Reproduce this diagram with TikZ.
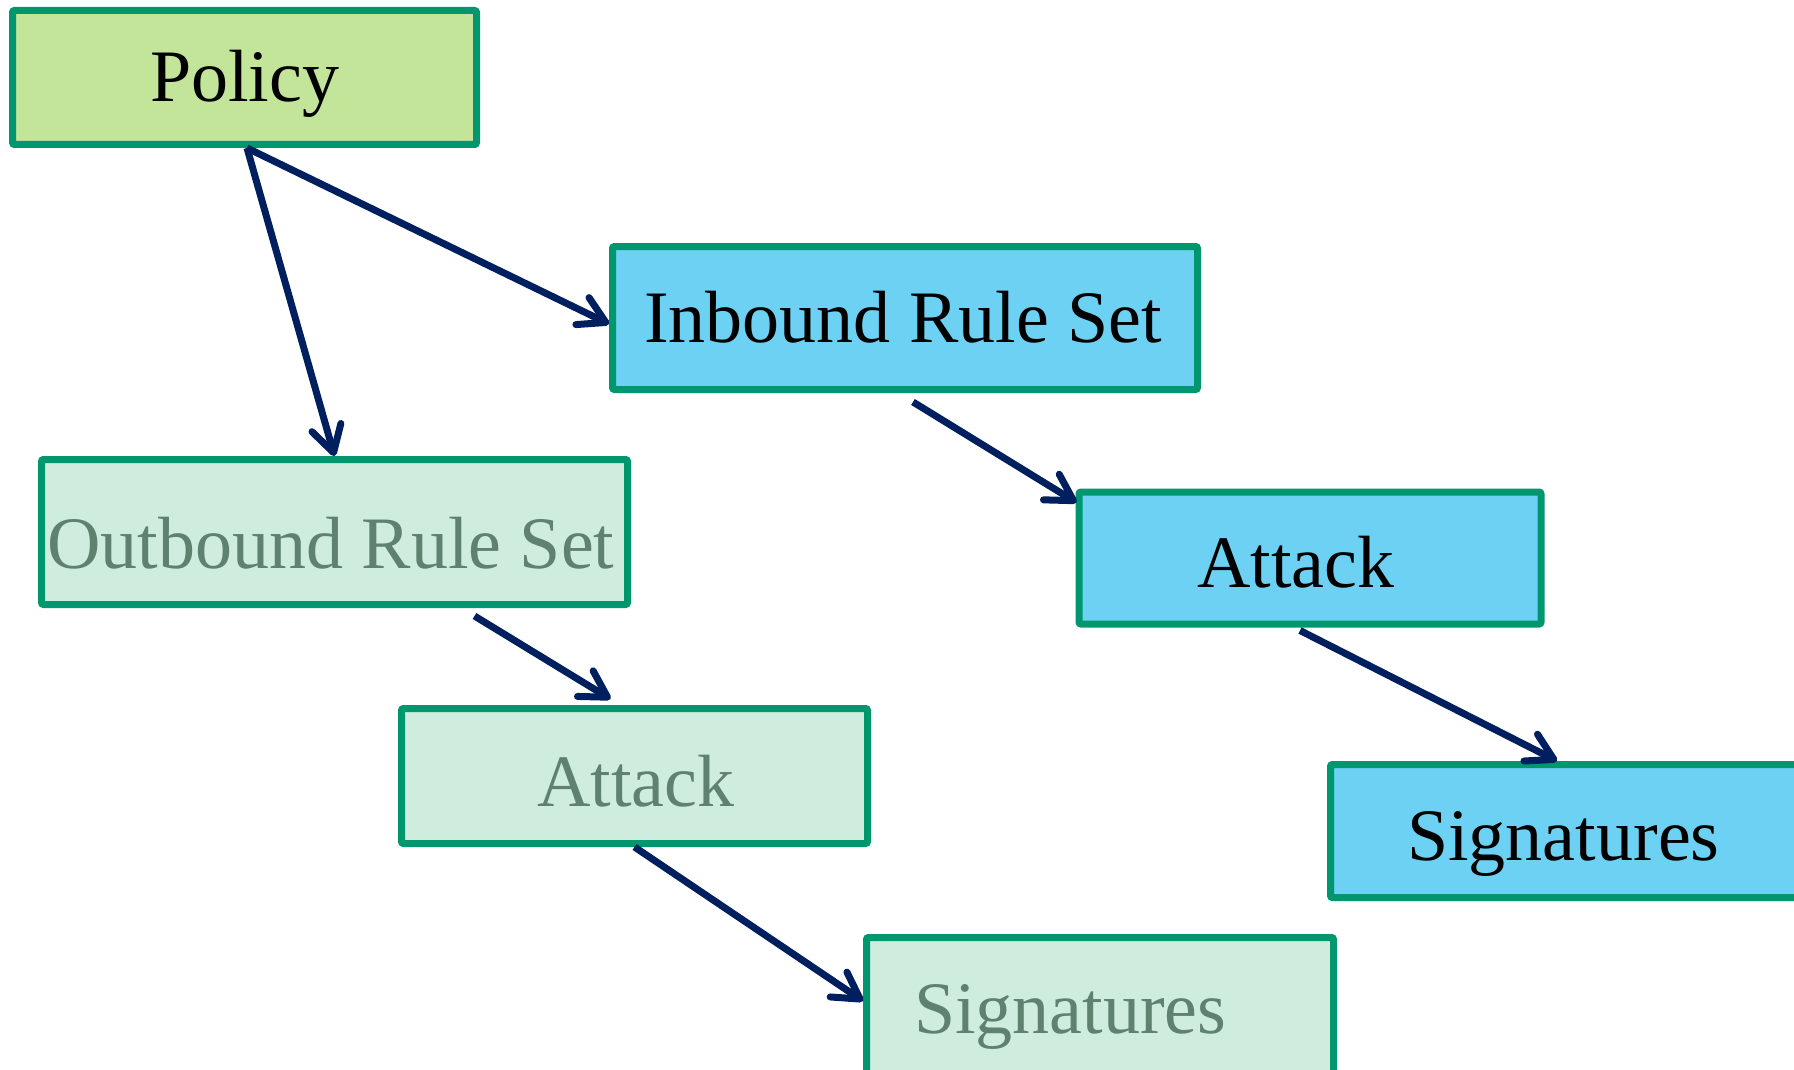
\documentclass[tikz,border=0pt]{standalone}
\usepackage{fontspec}
\setmainfont{Liberation Serif}
\usetikzlibrary{arrows.meta,calc}
\definecolor{boxline}{HTML}{00976F}
\definecolor{policyfill}{HTML}{C2E59A}
\definecolor{bluefill}{HTML}{6DD1F4}
\definecolor{palefill}{HTML}{CFEDDF}
\definecolor{paletext}{HTML}{5F8270}
\definecolor{arrowcol}{HTML}{001F5F}
\tikzset{
  box/.style={draw=boxline, line width=7pt, rounded corners=2pt, inner sep=0pt},
  txt/.style={anchor=base west, inner sep=0pt, font=\fontsize{74}{80}\selectfont},
  conn/.style={draw=arrowcol, line width=7pt, -{Straight Barb[length=26pt,width=30pt,round]}}
}
\begin{document}
\begin{tikzpicture}[x=1pt,y=-1pt]
\useasboundingbox (0,0) rectangle (1794,1070);
\clip (0,0) rectangle (1794,1070);
% boxes
\node[box, fill=policyfill, minimum width=464pt, minimum height=134pt] (policy) at (244.5,77.5) {};
\node[box, fill=bluefill, minimum width=585pt, minimum height=143pt] (inbound) at (905,318) {};
\node[box, fill=palefill, minimum width=586pt, minimum height=145pt] (outbound) at (334.5,532) {};
\node[box, fill=palefill, minimum width=466pt, minimum height=135pt] (attackout) at (634.5,776) {};
\node[box, fill=palefill, minimum width=467pt, minimum height=140pt] (sigout) at (1100,1007.5) {};
\node[box, fill=bluefill, minimum width=462pt, minimum height=132pt] (attackin) at (1310,558) {};
\node[box, fill=bluefill, minimum width=467pt, minimum height=133pt] (sigin) at (1564,831) {};
% texts
\node[txt] (policyT) at (150,102) {Policy};
\node[txt] (inboundT) at (644,342) {Inbound Rule Set};
\node[txt, text=paletext] (outboundT) at (47,568) {Outbound Rule Set};
\node[txt, text=paletext] (attackoutT) at (537,806) {Attack};
\node[txt, text=paletext] (sigoutT) at (914,1033) {Signatures};
\node[txt] (attackinT) at (1197,587) {Attack};
\node[txt] (siginT) at (1407,860) {Signatures};
% connector ends
\coordinate (pstart) at ($(policy.south)+(2.5,0)$);
\coordinate (inEnd) at ($(inbound.west)+(0,6)$);
\coordinate (ibStart) at ($(inbound.south)+(8,9)$);
\coordinate (aiEnd) at ($(attackin.north west)+(1,14)$);
\coordinate (obStart) at ($(outbound.south)+(140,8)$);
\coordinate (aoEnd) at ($(attackout.north)+(-24,-6)$);
\coordinate (aoStart) at ($(attackout.south)+(0,0)$);
\coordinate (soEnd) at ($(sigout.north west)+(0,67)$);
\coordinate (aiStart) at ($(attackin.south)+(-10,3)$);
\coordinate (siEnd) at ($(sigin.north west)+(230,0)$);
% connectors
\draw[conn] (pstart) -- (inEnd);
\draw[conn] (pstart) -- (outbound.north);
\draw[conn] (ibStart) -- (aiEnd);
\draw[conn] (obStart) -- (aoEnd);
\draw[conn] (aoStart) -- (soEnd);
\draw[conn] (aiStart) -- (siEnd);
\end{tikzpicture}
\end{document}
